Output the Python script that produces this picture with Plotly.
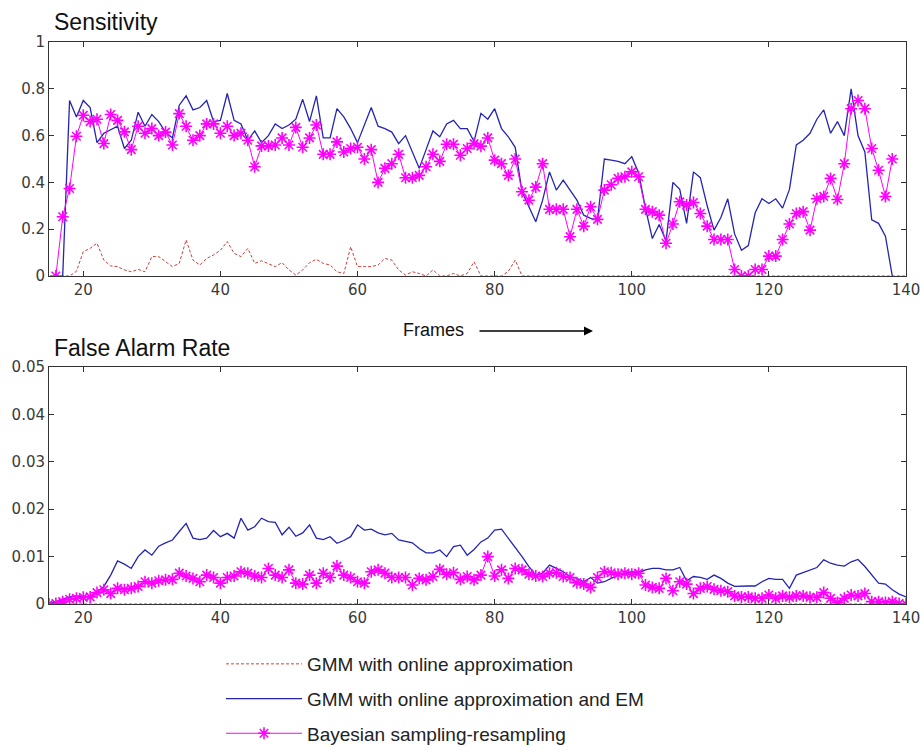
import plotly.graph_objects as go
from plotly.subplots import make_subplots

# ---------------- data ----------------
# Sensitivity (top panel)
sens_frames_red = list(range(16, 141))
sens_red = [
    0, 0, 0, 0.02, 0.104, 0.118, 0.14, 0.068, 0.043, 0.04,
    0.026, 0.018, 0.028, 0.018, 0.083, 0.083, 0.061, 0.04, 0.054, 0.154,
    0.068, 0.047, 0.075, 0.09, 0.11, 0.147, 0.097, 0.083, 0.118, 0.054,
    0.065, 0.051, 0.04, 0.057, 0.026, 0.004, 0.026, 0.057, 0.071, 0.054,
    0.047, 0.018, 0.011, 0.125, 0.04, 0.04, 0.04, 0.047, 0.075, 0.068,
    0.026, 0.004, 0.018, 0.011, 0, 0.026, 0, 0, 0.011, 0,
    0.011, 0.061, 0, 0, 0, 0, 0.02, 0.068,
] + [0] * 57

sens_frames_blue = list(range(17, 139))
sens_blue = [
    0.0, 0.75, 0.68, 0.75, 0.72, 0.57, 0.61, 0.625, 0.64, 0.545,
    0.58, 0.70, 0.64, 0.69, 0.66, 0.615, 0.59, 0.73, 0.77, 0.71,
    0.72, 0.75, 0.66, 0.665, 0.78, 0.665, 0.65, 0.58, 0.62, 0.57,
    0.60, 0.65, 0.63, 0.645, 0.67, 0.755, 0.66, 0.77, 0.59, 0.59,
    0.715, 0.68, 0.63, 0.57, 0.645, 0.72, 0.64, 0.63, 0.615, 0.566,
    0.60, 0.53, 0.46, 0.54, 0.62, 0.595, 0.65, 0.665, 0.63, 0.63,
    0.575, 0.695, 0.67, 0.715, 0.63, 0.595, 0.55, 0.36, 0.296, 0.232,
    0.324, 0.445, 0.367, 0.41, 0.367, 0.324, 0.26, 0.246, 0.24, 0.50,
    0.495, 0.49, 0.48, 0.51, 0.44, 0.29, 0.16, 0.22, 0.15, 0.40,
    0.37, 0.225, 0.445, 0.42, 0.30, 0.196, 0.25, 0.33, 0.18, 0.11,
    0.13, 0.27, 0.33, 0.31, 0.33, 0.29, 0.37, 0.56, 0.58, 0.61,
    0.67, 0.71, 0.61, 0.66, 0.60, 0.80, 0.60, 0.53, 0.24, 0.225,
    0.17, 0.0,
]

sens_frames_mag = list(range(16, 139))
sens_mag = [
    0, 0.253, 0.374, 0.597, 0.687, 0.66, 0.67, 0.566, 0.69, 0.665,
    0.616, 0.54, 0.64, 0.61, 0.63, 0.60, 0.615, 0.56, 0.694, 0.64,
    0.58, 0.60, 0.65, 0.65, 0.61, 0.64, 0.60, 0.61, 0.58, 0.467,
    0.556, 0.556, 0.56, 0.59, 0.56, 0.635, 0.55, 0.59, 0.645, 0.52,
    0.52, 0.573, 0.53, 0.545, 0.55, 0.50, 0.54, 0.40, 0.46, 0.48,
    0.52, 0.42, 0.42, 0.43, 0.467, 0.52, 0.49, 0.563, 0.563, 0.516,
    0.545, 0.566, 0.555, 0.59, 0.495, 0.48, 0.43, 0.50, 0.36, 0.324,
    0.38, 0.48, 0.285, 0.285, 0.285, 0.168, 0.285, 0.213, 0.296, 0.242,
    0.367, 0.39, 0.417, 0.424, 0.445, 0.424, 0.285, 0.275, 0.26, 0.14,
    0.222, 0.317, 0.303, 0.314, 0.267, 0.213, 0.156, 0.156, 0.156, 0.028,
    0.0, 0.0, 0.028, 0.028, 0.085, 0.085, 0.156, 0.222, 0.267, 0.275,
    0.196, 0.33, 0.34, 0.417, 0.327, 0.48, 0.715, 0.75, 0.715, 0.545,
    0.452, 0.34, 0.50,
]

# False alarm rate (bottom panel), frames 15..140
far_frames = list(range(15, 141))
far_red = [0.0] * 126
far_blue_pct = [
    0, 0.05, 0.1, 0.15, 0.17, 0.15, 0.12, 0.24, 0.37, 0.61,
    0.91, 0.84, 0.75, 1.0, 1.14, 1.03, 1.22, 1.29, 1.35, 1.53,
    1.70, 1.39, 1.36, 1.39, 1.55, 1.42, 1.49, 1.39, 1.81, 1.56,
    1.63, 1.81, 1.74, 1.72, 1.46, 1.62, 1.43, 1.50, 1.67, 1.39,
    1.36, 1.42, 1.28, 1.34, 1.42, 1.67, 1.56, 1.58, 1.50, 1.46,
    1.49, 1.35, 1.32, 1.29, 1.17, 1.08, 1.08, 1.14, 1.0, 1.21,
    1.24, 1.03, 1.15, 1.31, 1.39, 1.56, 1.58, 1.39, 1.21, 1.0,
    0.79, 0.61, 0.65, 0.82, 0.75, 0.68, 0.58, 0.54, 0.47, 0.56,
    0.44, 0.47, 0.54, 0.61, 0.65, 0.68, 0.66, 0.72, 0.75, 0.75,
    0.72, 0.72, 0.77, 0.49, 0.58, 0.56, 0.52, 0.61, 0.54, 0.44,
    0.37, 0.38, 0.38, 0.38, 0.47, 0.54, 0.52, 0.52, 0.33, 0.61,
    0.66, 0.72, 0.77, 0.93, 0.86, 0.82, 0.80, 0.89, 0.94, 0.79,
    0.61, 0.44, 0.42, 0.30, 0.21, 0.15,
]
far_mag_pct = [
    0, 0.01, 0.05, 0.1, 0.12, 0.14, 0.15, 0.24, 0.30, 0.22,
    0.33, 0.30, 0.33, 0.37, 0.47, 0.44, 0.49, 0.51, 0.52, 0.65,
    0.59, 0.54, 0.47, 0.61, 0.56, 0.44, 0.56, 0.59, 0.68, 0.65,
    0.59, 0.56, 0.75, 0.61, 0.56, 0.72, 0.44, 0.42, 0.61, 0.44,
    0.65, 0.56, 0.80, 0.61, 0.56, 0.47, 0.44, 0.68, 0.72, 0.65,
    0.56, 0.56, 0.56, 0.40, 0.54, 0.51, 0.58, 0.73, 0.63, 0.66,
    0.52, 0.58, 0.51, 0.61, 1.0, 0.59, 0.72, 0.54, 0.75, 0.72,
    0.63, 0.59, 0.58, 0.65, 0.66, 0.58, 0.56, 0.45, 0.42, 0.35,
    0.56, 0.68, 0.66, 0.63, 0.65, 0.63, 0.65, 0.40, 0.35, 0.33,
    0.54, 0.28, 0.47, 0.42, 0.22, 0.33, 0.37, 0.31, 0.28, 0.26,
    0.17, 0.15, 0.15, 0.12, 0.12, 0.19, 0.12, 0.17, 0.14, 0.17,
    0.17, 0.14, 0.14, 0.24, 0.12, 0.03, 0.12, 0.19, 0.17, 0.22,
    0.05, 0.05, 0.03, 0.05, 0.01, 0.0,
]
far_blue = [v / 100 for v in far_blue_pct]
far_mag = [v / 100 for v in far_mag_pct]

names = ["GMM with online approximation",
         "GMM with online approximation and EM",
         "Bayesian sampling-resampling"]
x_ticks = [20, 40, 60, 80, 100, 120, 140]

RED = "#c8403a"
BLUE = "#2424b4"
MAG = "#ff00ff"
FONT = "Liberation Sans, Arial, sans-serif"
TICKFONT = "DejaVu Sans, sans-serif"

# ---------------- figure ----------------
fig = make_subplots(rows=2, cols=1)

def add_series(row, xr, yr, xb, yb, xm, ym, show):
    fig.add_trace(go.Scatter(x=xr, y=yr, mode="lines", name=names[0],
                             line=dict(color=RED, width=1, dash="3px,2px"),
                             showlegend=show, legendgroup="a"), row=row, col=1)
    fig.add_trace(go.Scatter(x=xb, y=yb, mode="lines", name=names[1],
                             line=dict(color=BLUE, width=1.3),
                             showlegend=show, legendgroup="b"), row=row, col=1)
    fig.add_trace(go.Scatter(x=xm, y=ym, mode="lines+markers", name=names[2],
                             line=dict(color=MAG, width=1),
                             marker=dict(symbol="asterisk-open", size=10,
                                         color=MAG, line=dict(color=MAG, width=1.6)),
                             showlegend=show, legendgroup="c"), row=row, col=1)

add_series(1, sens_frames_red, sens_red, sens_frames_blue, sens_blue,
           sens_frames_mag, sens_mag, True)
add_series(2, far_frames, far_red, far_frames, far_blue, far_frames, far_mag, False)

W, H = 922, 747
x0, x1 = 49 / W, 906 / W
axis_common = dict(showgrid=False, zeroline=False, showline=True, mirror="ticks",
                   linecolor="#333333", linewidth=1, ticks="inside", ticklen=5,
                   tickcolor="#333333", automargin=False,
                   tickfont=dict(family=TICKFONT, size=15, color="#3a3a3a"))

fig.update_xaxes(range=[15, 140], tickvals=x_ticks, domain=[x0, x1], **axis_common)
fig.update_yaxes(**axis_common)
fig.update_yaxes(range=[0, 1], dtick=0.2, domain=[1 - 276 / H, 1 - 42 / H], row=1, col=1)
fig.update_yaxes(range=[0, 0.05], dtick=0.01, domain=[1 - 604 / H, 1 - 367 / H],
                 row=2, col=1)

fig.add_annotation(text="Sensitivity", xref="paper", yref="paper",
                   x=52 / W, y=1 - 22 / H, xanchor="left", yanchor="middle",
                   showarrow=False, font=dict(family=FONT, size=23, color="#111111"))
fig.add_annotation(text="False Alarm Rate", xref="paper", yref="paper",
                   x=52 / W, y=1 - 348 / H, xanchor="left", yanchor="middle",
                   showarrow=False, font=dict(family=FONT, size=23, color="#111111"))
fig.add_annotation(text="Frames", xref="paper", yref="paper",
                   x=401 / W, y=1 - 330 / H, xanchor="left", yanchor="middle",
                   showarrow=False, font=dict(family=FONT, size=18, color="#111111"))
fig.add_annotation(text="", xref="paper", yref="paper",
                   x=593 / W, y=1 - 331 / H, ax=-115, ay=0,
                   showarrow=True, arrowhead=2, arrowsize=1.2, arrowwidth=1.5,
                   arrowcolor="#000000")

fig.update_layout(
    width=W, height=H,
    margin=dict(l=0, r=0, t=0, b=0, autoexpand=False),
    paper_bgcolor="white", plot_bgcolor="white",
    font=dict(family=FONT, color="#222222"),
    legend=dict(x=221 / W, y=1 - 645 / H, xanchor="left", yanchor="top",
                font=dict(family=FONT, size=19, color="#222222"),
                itemwidth=76, tracegroupgap=7, bgcolor="rgba(0,0,0,0)"),
)

fig.write_html("out.html",
               config={"displayModeBar": False},
               post_script="document.body.style.margin='0';"
                           "document.body.style.overflow='hidden';")
